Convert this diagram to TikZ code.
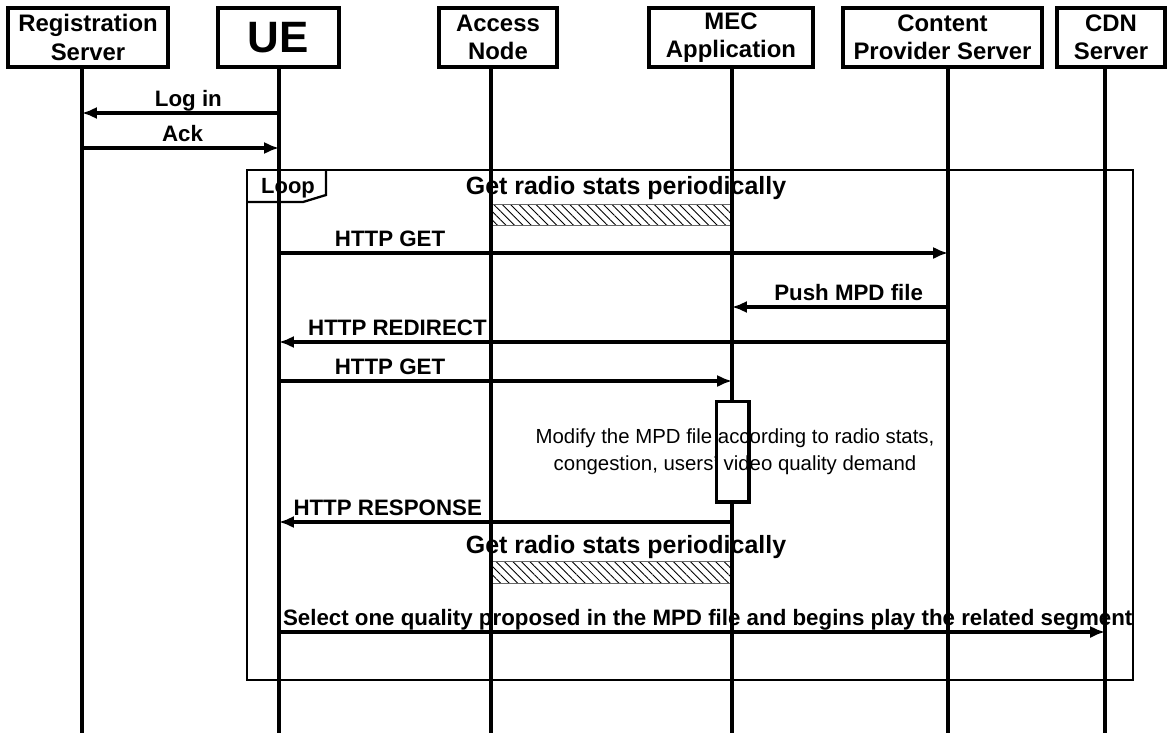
\documentclass[tikz,border=0pt]{standalone}
\usepackage{fontspec}
\setmainfont{Liberation Sans}
\usepackage{tikz}
\usetikzlibrary{arrows.meta}
\usetikzlibrary{patterns.meta}
\tikzstyle{actor}=[draw, line width=2pt, align=center, inner sep=1pt, minimum height=1.18cm, font=\fontsize{13.6}{16}\selectfont\bfseries]
\tikzstyle{life}=[line width=2.2pt]
\tikzstyle{edge}=[line width=1.9pt, -{Latex[length=8.5pt, width=7pt]}]
\tikzstyle{edgeLabel}=[above, inner sep=3pt, text depth=0pt, font=\fontsize{12.7}{15}\selectfont\bfseries]
\tikzstyle{frame}=[line width=1.3pt]
\tikzstyle{stats}=[draw=black!60, line width=0.5pt, pattern={Lines[angle=-45, distance=3.4pt, line width=0.5pt]}]
\tikzstyle{note}=[inner sep=1pt, font=\fontsize{14.2}{16}\selectfont\bfseries]
\tikzstyle{loopLabel}=[inner sep=1pt, font=\fontsize{12.5}{14}\selectfont\bfseries]
\tikzstyle{act}=[line width=2pt, fill=white, inner sep=0pt, minimum width=0.58cm, minimum height=1.94cm]
\tikzstyle{modify}=[align=center, inner sep=1pt, font=\fontsize{11.6}{15.5}\selectfont]

\begin{document}
\begin{tikzpicture}[x=0.02cm, y=-0.02cm]
	\useasboundingbox (0,0) rectangle (1168,733);
	\foreach \l/\x in {reg/82, ue/279, an/491, mec/732, cps/948, cdn/1105} {
		\coordinate (\l-top) at (\x,67);
		\coordinate (\l-end) at (\x,733);
		\foreach \m/\y in {1/113, 2/148, 3/253, 4/307, 5/342, 6/381, 7/522, 8/632}
			\coordinate (\l-m\m) at (\x,\y);
	}
	\draw[frame] (247,170) rectangle (1133,680);
	\draw[frame] (247,202) -- (303,202) -- (326,195) -- (326,170);
	\draw (288,188) node[loopLabel] (loop) {Loop};
	\draw[stats] (491,204) rectangle (732,225);
	\draw (626,188) node[note] (stats1) {Get radio stats periodically};
	\draw[stats] (491,561) rectangle (732,583);
	\draw (626,547) node[note] (stats2) {Get radio stats periodically};
	\foreach \l in {reg, ue, an, mec, cps, cdn}
		\draw[life] (\l-top) -- (\l-end);
	\draw (88,37.5) node[actor, minimum width=3.2cm] (reg) {Registration\\Server};
	\draw (278.5,37.5) node[actor, minimum width=2.42cm, font=\fontsize{25}{28}\selectfont\bfseries] (ue) {UE};
	\draw (498,37.5) node[actor, minimum width=2.36cm] (an) {Access\\Node};
	\draw (731,37.5) node[actor, minimum width=3.28cm] (mec) {MEC\\Application};
	\draw (942.5,37.5) node[actor, minimum width=3.98cm] (cps) {Content\\Provider Server};
	\draw (1111,37.5) node[actor, minimum width=2.16cm] (cdn) {CDN\\Server};
	\draw[edge] (ue-m1) -- (reg-m1) node[edgeLabel, pos=0.46] {Log in};
	\draw[edge] (reg-m2) -- (ue-m2) node[edgeLabel, pos=0.51] {Ack};
	\draw[edge] (ue-m3) -- (cps-m3) node[edgeLabel, pos=0.166] {HTTP GET};
	\draw[edge] (cps-m4) -- (mec-m4) node[edgeLabel, pos=0.46] {Push MPD file};
	\draw[edge] (cps-m5) -- (ue-m5) node[edgeLabel, pos=0.823] {HTTP REDIRECT};
	\draw[edge] (ue-m6) -- (mec-m6) node[edgeLabel, pos=0.245] {HTTP GET};
	\draw[edge] (mec-m7) -- (ue-m7) node[edgeLabel, pos=0.76] {HTTP RESPONSE};
	\draw[edge] (ue-m8) -- (cdn-m8) node[edgeLabel, pos=0.519] {Select one quality proposed in the MPD file and begins play the related segment};
	\draw (732.5,451.5) node[act] (proc) {};
	\draw (735,452) node[modify] (mod) {Modify the MPD file according to radio stats,\\congestion, users' video quality demand};
	\draw[line width=2pt] (proc.north west) rectangle (proc.south east);
\end{tikzpicture}
\end{document}
